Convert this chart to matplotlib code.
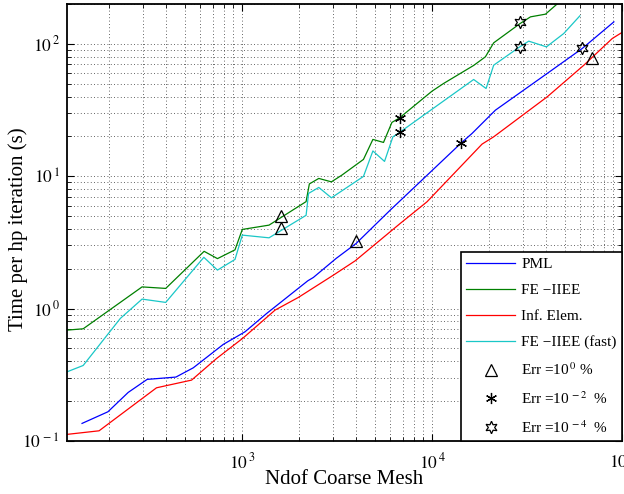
import numpy as np
import matplotlib
matplotlib.use("Agg")
import matplotlib.pyplot as plt
from matplotlib.lines import Line2D
from matplotlib.ticker import LogLocator, FuncFormatter, NullFormatter

plt.rcParams['font.family'] = ['Liberation Serif', 'DejaVu Serif']
plt.rcParams['mathtext.fontset'] = 'stix'

# ---------------- data ----------------
pml_x = [144, 197, 252, 317, 449, 554, 797, 1037, 1350, 2220, 2376, 3130, 3990,
         6028, 14270, 16250, 21570, 40390, 61770, 90640]
pml_y = [0.1358, 0.1662, 0.2329, 0.292, 0.304, 0.357, 0.5365, 0.668, 0.92, 1.622,
         1.72, 2.394, 3.108, 5.546, 17.88, 21.05, 31.56, 59.76, 92.3, 146.6]

fe_x = [120, 146, 298, 397, 632, 743, 919, 1004, 1388, 2175, 2263, 2537, 2956, 3354,
        4359, 4887, 5557, 6153, 6749, 10000, 11510, 16570, 19100, 21120, 29030, 32980,
        39560, 47000]
fe_y = [0.688, 0.704, 1.459, 1.421, 2.709, 2.386, 2.781, 3.964, 4.272, 6.43, 8.748,
        9.625, 9.07, 10.19, 13.4, 18.97, 18.0, 25.5, 27.6, 43.9, 50.2, 68.7, 79.8,
        101.8, 142.1, 159.9, 167.6, 208]

inf_x = [120, 177, 355, 543, 736, 1012, 1493, 1981, 3029, 3942, 6806, 9410, 18340,
         21120, 40390, 62990, 88900, 100000]
inf_y = [0.1122, 0.1194, 0.2523, 0.2884, 0.4206, 0.5986, 0.9743, 1.215, 1.791, 2.296,
         4.401, 6.407, 17.48, 19.85, 39.79, 69.0, 109.8, 121.9]

fast_x = [120, 146, 229, 298, 397, 630, 743, 919, 1004, 1388, 2175, 2241, 2537, 2956,
          4359, 4887, 5626, 6228, 6749, 16570, 19260, 21120, 28960, 32300, 40040,
          49400, 60000]
fast_y = [0.333, 0.372, 0.843, 1.18, 1.114, 2.441, 1.954, 2.353, 3.591, 3.426, 5.067,
          7.417, 8.23, 6.87, 9.966, 15.53, 12.94, 19.85, 21.42, 53.8, 46.0, 69.0, 94.9,
          104.8, 94.9, 119.8, 162.7]

err0_x = [1605, 1605, 3990, 69130]
err0_y = [4.99, 4.03, 3.25, 78.3]
err2_x = [6749, 6749, 14270]
err2_y = [27.6, 21.4, 17.9]
err4_x = [28960, 28960, 61770]
err4_y = [145.8, 94.9, 92.3]

series_labels = ['PML', 'FE \u2212IIEE', 'Inf. Elem.', 'FE \u2212IIEE (fast)']
err_labels = ['Err =10$^{\\,0}$ %', 'Err =10$^{\\,-2}$  %', 'Err =10$^{\\,-4}$  %']

# ---------------- figure ----------------
fig = plt.figure(figsize=(6.24, 4.94), dpi=100)
ax = fig.add_axes([67/624, 53/494, 555/624, 437/494])

c_blue = (0, 0, 1)
c_green = (0, 0.5, 0)
c_red = (1, 0, 0)
c_cyan = (0.1, 0.78, 0.78)

lw = 0.9
ax.plot(pml_x, pml_y, color=c_blue, lw=lw)
ax.plot(fe_x, fe_y, color=c_green, lw=lw)
ax.plot(inf_x, inf_y, color=c_red, lw=lw)
ax.plot(fast_x, fast_y, color=c_cyan, lw=lw)

mk = dict(color='k', linestyle='none', markerfacecolor='none', markeredgecolor='k',
          markeredgewidth=0.9)
ax.plot(err0_x, err0_y, marker='^', markersize=8, **mk)
ax.plot(err2_x, err2_y, marker=(6, 2, 0), markersize=8, **mk)
ax.plot(err4_x, err4_y, marker=(6, 1, 0), markersize=9, **mk)

ax.set_xscale('log')
ax.set_yscale('log')
ax.set_xlim(120, 1e5)
ax.set_ylim(0.1, 200)

ax.xaxis.set_major_locator(LogLocator(base=10, numticks=10))
ax.yaxis.set_major_locator(LogLocator(base=10, numticks=10))
ax.xaxis.set_minor_locator(LogLocator(base=10, subs=np.arange(2, 10), numticks=20))
ax.yaxis.set_minor_locator(LogLocator(base=10, subs=np.arange(2, 10), numticks=20))

def fmt(v, pos):
    e = int(round(np.log10(v)))
    return "$10^{\\,%d}$" % e

ax.xaxis.set_major_formatter(FuncFormatter(fmt))
ax.yaxis.set_major_formatter(FuncFormatter(fmt))
ax.xaxis.set_minor_formatter(NullFormatter())
ax.yaxis.set_minor_formatter(NullFormatter())

ax.tick_params(which='both', direction='in', top=True, right=True, labelsize=12.5)
ax.tick_params(which='major', length=5, width=0.8)
ax.tick_params(which='minor', length=3, width=0.6)
ax.tick_params(axis='x', pad=8)
ax.tick_params(axis='y', pad=5)

ax.grid(True, which='both', linestyle=(0, (1, 3)), color='0.2', linewidth=0.6)
ax.set_axisbelow(True)
for s in ax.spines.values():
    s.set_linewidth(1.3)

ax.set_xlabel('Ndof Coarse Mesh', fontsize=15, va='top')
ax.xaxis.set_label_coords(0.5, -0.066)
ax.set_ylabel('Time per hp iteration (s)', fontsize=15)
ax.yaxis.set_label_coords(-0.07, 0.485)

handles = [Line2D([], [], color=c, lw=lw) for c in (c_blue, c_green, c_red, c_cyan)]
handles += [Line2D([], [], marker='^', markersize=8, **mk),
            Line2D([], [], marker=(6, 2, 0), markersize=8, **mk),
            Line2D([], [], marker=(6, 1, 0), markersize=9, **mk)]
leg = ax.legend(handles, series_labels + err_labels, loc='lower right',
                bbox_to_anchor=(1, 0), borderaxespad=0, fontsize=11,
                handlelength=3.2, handletextpad=0.4, labelspacing=0.8,
                borderpad=0.35, fancybox=False, framealpha=1)
leg.get_frame().set_edgecolor('k')
leg.get_frame().set_linewidth(1.2)

fig.savefig('out.png', dpi=100)
